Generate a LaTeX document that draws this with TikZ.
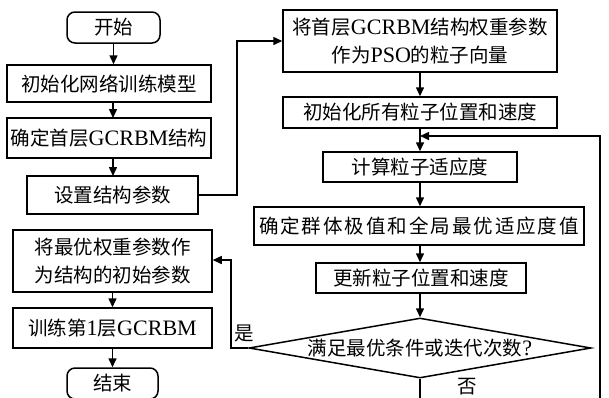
\documentclass[tikz,border=0pt]{standalone}
\usepackage{fontspec}
\setmainfont{Noto Sans CJK SC}
\newfontfamily\latfont[Scale=1.13]{Liberation Serif}
\newcommand\lat[1]{{\latfont #1}}
\usetikzlibrary{shapes.geometric,arrows.meta}
\begin{document}
\begin{tikzpicture}[x=1pt,y=-1pt,
  box/.style={draw,line width=1.5pt,rectangle,align=center,inner sep=0pt,font=\fontsize{19.5}{28}\selectfont},
  term/.style={box,rounded corners=8pt},
  arr/.style={line width=1.5pt,-{Triangle[length=9pt,width=8pt]}},
  ln/.style={line width=1.5pt},
  lbl/.style={inner sep=0pt,font=\fontsize{19.5}{24}\selectfont}]
\path[use as bounding box] (0,0) rectangle (609,397);
\clip (0,0) rectangle (609,397);
\fill[white] (0,0) rectangle (609,397);

% left column
\node[term,minimum width=93pt,minimum height=31pt] (start) at (113.5,27.5) {开始};
\node[box,minimum width=204pt,minimum height=37pt] (init) at (109,83.5) {初始化网络训练模型};
\node[box,minimum width=204pt,minimum height=40pt] (first) at (109,138) {确定首层\lat{GCRBM}结构};
\node[box,minimum width=171pt,minimum height=38pt] (set) at (112.5,195) {设置结构参数};
\node[box,minimum width=199pt,minimum height=62pt] (best) at (112.5,261) {将最优权重参数作\\为结构的初始参数};
\node[box,minimum width=199pt,minimum height=40pt] (train) at (112.5,328) {训练第\lat{1}层\lat{GCRBM}};
\node[term,minimum width=91pt,minimum height=31pt] (end) at (112.5,383.5) {结束};

% right column
\node[box,minimum width=274pt,minimum height=62pt] (pso) at (420,41) {将首层\lat{GCRBM}结构权重参数\\作为\lat{PSO}的粒子向量};
\node[box,minimum width=274pt,minimum height=31pt] (initp) at (420,112.5) {初始化所有粒子位置和速度};
\node[box,minimum width=194pt,minimum height=30pt] (calc) at (420,167) {计算粒子适应度};
\node[box,minimum width=330pt,minimum height=38pt,font=\fontsize{19.5}{28}\selectfont\addfontfeature{LetterSpace=10}] (det) at (419,226) {确定群体极值和全局最优适应度值};
\node[box,minimum width=210pt,minimum height=30pt] (upd) at (421,278) {更新粒子位置和速度};
\node[draw,diamond,line width=1.5pt,inner sep=0pt,aspect=5.7,minimum width=342pt,minimum height=60pt,font=\fontsize{19.5}{24}\selectfont] (dia) at (420,348) {\raisebox{-4pt}{满足最优条件或迭代次数\lat{?}}};

\node[lbl] (yes) at (244,333) {是};
\node[lbl] (no) at (467,387) {否};

% connectors left
\draw[arr] (start.south) -- (start.south |- init.north);
\draw[arr] (113,102) -- (113,118);
\draw[arr] (113,158) -- (113,176);
\draw[arr] (best.south) -- (train.north);
\draw[arr] (train.south) -- (end.north);

% set -> pso
\coordinate (sp) at (237,195);
\draw[arr] (set.east) -- (sp) |- (pso.west);

% right column arrows
\draw[arr] (pso.south) -- (initp.north);
\draw[arr] (initp.south) -- (calc.north);
\draw[arr] (calc.south) -- (calc.south |- det.north);
\draw[arr] (calc.south |- det.south) -- (calc.south |- upd.north);
\draw[arr] (calc.south |- upd.south) -- (dia.north);

% loop back (no)
\coordinate (bot) at (600,420);
\coordinate (loopR) at (600,136);
\draw[arr] (dia.south) -- (dia.south |- bot) -- (bot) -- (loopR) -- (loopR -| calc.north);

% yes
\coordinate (yx) at (231,260);
\draw[arr] (dia.west) -| (yx) -- (best.east |- yx);
\end{tikzpicture}
\end{document}
